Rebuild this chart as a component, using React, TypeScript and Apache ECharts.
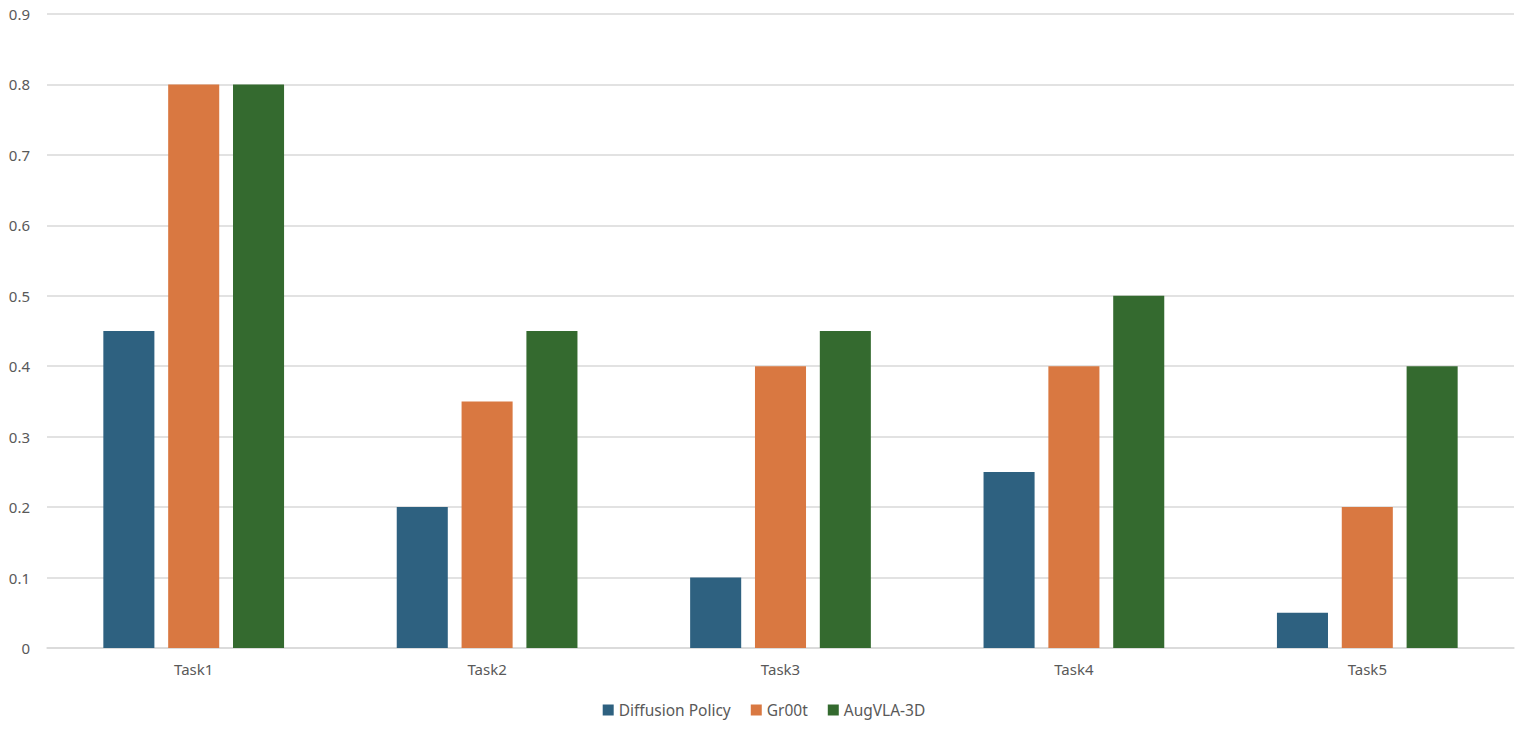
import React, { useEffect, useRef } from "react";
import * as echarts from "echarts";

const categories = ["Task1", "Task2", "Task3", "Task4", "Task5"];
const diffusionPolicy = [0.45, 0.2, 0.1, 0.25, 0.05];
const gr00t = [0.8, 0.35, 0.4, 0.4, 0.2];
const augVLA3D = [0.8, 0.45, 0.45, 0.5, 0.4];
const seriesNames = ["Diffusion Policy", "Gr00t", "AugVLA-3D"];
const colors = ["#2e6180", "#d97841", "#346a2f"];

export default function App() {
  const ref = useRef<HTMLDivElement>(null);
  useEffect(() => {
    document.body.style.margin = "0";
    const chart = echarts.init(ref.current!, null, { renderer: "svg" });
    const font = "'Noto Sans', sans-serif";
    const data = [diffusionPolicy, gr00t, augVLA3D];
    chart.setOption({
      animation: false,
      backgroundColor: "#ffffff",
      textStyle: { fontFamily: font },
      grid: { left: 47, right: 14, top: 14, bottom: 84, containLabel: false },
      legend: {
        bottom: 9,
        left: "center",
        itemWidth: 11,
        itemHeight: 11,
        itemGap: 20,
        icon: "rect",
        textStyle: { color: "#595959", fontSize: 15.5, fontFamily: font },
        data: seriesNames,
      },
      xAxis: {
        type: "category",
        data: categories,
        axisLine: { lineStyle: { color: "#d9d9d9", width: 1.5 } },
        axisTick: { show: false },
        axisLabel: { color: "#595959", fontSize: 15, margin: 13, fontFamily: font },
      },
      yAxis: {
        type: "value",
        min: 0,
        max: 0.9,
        interval: 0.1,
        axisLine: { show: false },
        axisTick: { show: false },
        splitLine: { lineStyle: { color: "#d9d9d9", width: 1.5 } },
        axisLabel: {
          color: "#595959",
          fontSize: 15,
          margin: 17,
          fontFamily: font,
          formatter: (v: number) => (Math.round(v * 10) / 10).toString(),
        },
      },
      series: seriesNames.map((name, i) => ({
        name,
        type: "bar",
        data: data[i],
        barWidth: "17.4%",
        barGap: "27%",
        itemStyle: { color: colors[i] },
      })),
    });
    return () => chart.dispose();
  }, []);
  return <div ref={ref} style={{ width: 1528, height: 732 }} />;
}
